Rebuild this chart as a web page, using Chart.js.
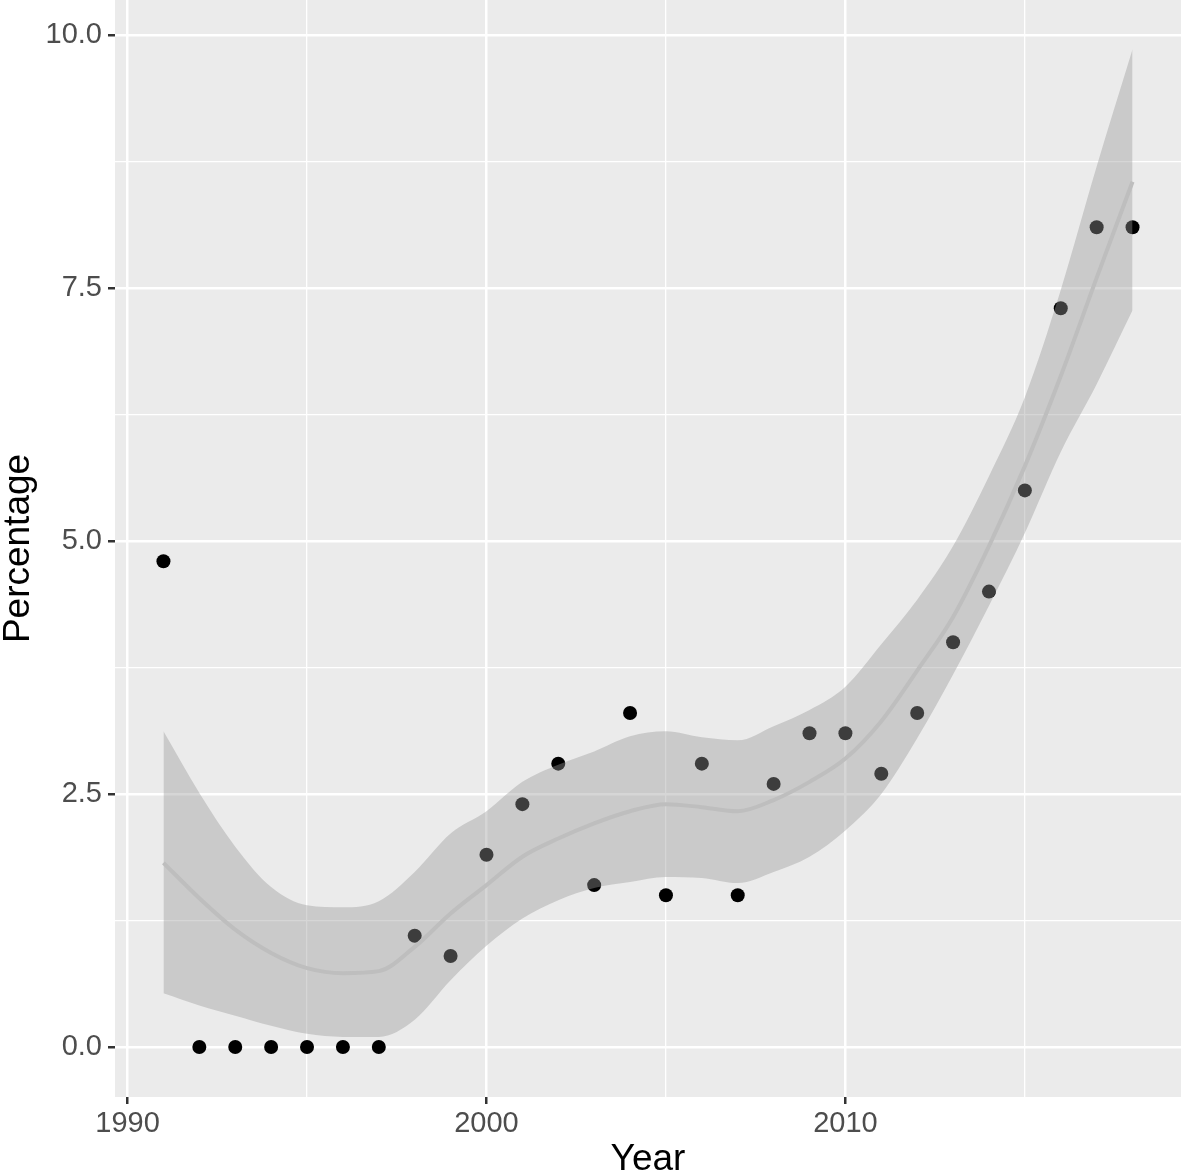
<!DOCTYPE html>
<html>
<head>
<meta charset="utf-8">
<script src="https://cdn.jsdelivr.net/npm/chart.js@4/dist/chart.umd.min.js"></script>
<style>
  html, body { margin: 0; padding: 0; background: #fff; }
  #wrap { width: 1181px; height: 1173px; }
</style>
</head>
<body>
<div id="wrap"><canvas id="trendChart" width="1181" height="1173"></canvas></div>
<script>
// observed values
const years = [1991, 1992, 1993, 1994, 1995, 1996, 1997, 1998, 1999, 2000,
               2001, 2002, 2003, 2004, 2005, 2006, 2007, 2008, 2009, 2010,
               2011, 2012, 2013, 2014, 2015, 2016, 2017, 2018];
const percentage = [4.8, 0, 0, 0, 0, 0, 0, 1.1, 0.9, 1.9,
                    2.4, 2.8, 1.6, 3.3, 1.5, 2.8, 1.5, 2.6, 3.1, 3.1,
                    2.7, 3.3, 4.0, 4.5, 5.5, 7.3, 8.1, 8.1];

// loess fit and its confidence band
const fitValues = [1.82, 1.47, 1.16, 0.93, 0.78, 0.73, 0.75, 0.99, 1.32, 1.60,
                   1.88, 2.06, 2.21, 2.33, 2.40, 2.37, 2.33, 2.44, 2.62, 2.85,
                   3.22, 3.72, 4.25, 4.95, 5.74, 6.63, 7.60, 8.55];
const bandUpper = [3.12, 2.51, 1.98, 1.58, 1.40, 1.38, 1.44, 1.73, 2.11, 2.33,
                   2.62, 2.79, 2.92, 3.07, 3.12, 3.06, 3.03, 3.17, 3.33, 3.56,
                   3.98, 4.42, 4.95, 5.64, 6.42, 7.48, 8.70, 9.86];
const bandLower = [0.53, 0.41, 0.31, 0.21, 0.13, 0.10, 0.10, 0.27, 0.66, 1.00,
                   1.27, 1.45, 1.57, 1.63, 1.68, 1.67, 1.62, 1.73, 1.88, 2.14,
                   2.50, 3.05, 3.68, 4.36, 5.08, 5.88, 6.55, 7.28];

const xTicks = [1990, 1995, 2000, 2005, 2010, 2015];
const xMajor = [1990, 2000, 2010];
const yTicks = [0, 1.25, 2.5, 3.75, 5, 6.25, 7.5, 8.75, 10];
const yMajor = [0, 2.5, 5, 7.5, 10];

const toXY = (vals) => years.map((yr, i) => ({ x: yr, y: vals[i] }));

const panelBg = {
    id: 'panelBg',
    beforeDraw(chart) {
        const { ctx, chartArea: a } = chart;
        ctx.save();
        ctx.fillStyle = '#EBEBEB';
        ctx.fillRect(a.left, a.top, a.right - a.left, a.bottom - a.top);
        ctx.restore();
    }
};

const font = "'Liberation Sans', Arial, Helvetica, sans-serif";

const isMajorX = (ctx) => ctx.tick && xMajor.includes(ctx.tick.value);
const isMajorY = (ctx) => ctx.tick && yMajor.includes(ctx.tick.value);

// the panel runs to the canvas edges, so drop the label overhang padding
const noOverhang = (scale) => {
    scale.paddingTop = 0;
    scale.paddingBottom = 0;
    scale.paddingLeft = 0;
    scale.paddingRight = 0;
};

const ctx = document.getElementById('trendChart').getContext('2d');
new Chart(ctx, {
    type: 'line',
    data: {
        datasets: [
            {
                label: 'fit',
                data: toXY(fitValues),
                borderColor: '#BEBEBE',
                borderWidth: 4,
                pointRadius: 0,
                fill: false,
                cubicInterpolationMode: 'monotone',
                order: 0
            },
            {
                label: 'upper',
                data: toXY(bandUpper),
                borderWidth: 0,
                borderColor: 'rgba(0,0,0,0)',
                pointRadius: 0,
                fill: false,
                cubicInterpolationMode: 'monotone',
                order: 1
            },
            {
                label: 'lower',
                data: toXY(bandLower),
                borderWidth: 0,
                borderColor: 'rgba(0,0,0,0)',
                backgroundColor: 'rgba(153,153,153,0.4)',
                pointRadius: 0,
                fill: '-1',
                cubicInterpolationMode: 'monotone',
                order: 1
            },
            {
                label: 'Percentage',
                data: toXY(percentage),
                showLine: false,
                pointRadius: 7,
                pointBackgroundColor: '#000',
                pointBorderWidth: 0,
                order: 2
            }
        ]
    },
    options: {
        responsive: false,
        animation: false,
        layout: { padding: 0, autoPadding: false },
        plugins: {
            legend: { display: false },
            tooltip: { enabled: false }
        },
        scales: {
            x: {
                type: 'linear',
                min: 1989.65,
                max: 2019.35,
                afterBuildTicks: (scale) => { scale.ticks = xTicks.map(v => ({ value: v })); },
                afterFit: (scale) => { scale.height = 76; noOverhang(scale); },
                border: { display: false },
                grid: {
                    color: '#FFFFFF',
                    lineWidth: (c) => isMajorX(c) ? 2.5 : 1.3,
                    tickColor: (c) => isMajorX(c) ? '#333333' : 'rgba(0,0,0,0)',
                    tickWidth: 2.5,
                    tickLength: 7
                },
                ticks: {
                    color: '#4D4D4D',
                    font: { family: font, size: 29 },
                    padding: 3,
                    maxRotation: 0,
                    autoSkip: false,
                    callback: (v) => xMajor.includes(v) ? String(v) : ''
                },
                title: {
                    display: true,
                    text: 'Year',
                    color: '#000',
                    font: { family: font, size: 37, lineHeight: 0.7 },
                    padding: 0
                }
            },
            y: {
                type: 'linear',
                min: -0.494,
                max: 10.346,
                afterBuildTicks: (scale) => { scale.ticks = yTicks.map(v => ({ value: v })); },
                afterFit: (scale) => { scale.width = 115; noOverhang(scale); },
                border: { display: false },
                grid: {
                    color: '#FFFFFF',
                    lineWidth: (c) => isMajorY(c) ? 2.5 : 1.3,
                    tickColor: (c) => isMajorY(c) ? '#333333' : 'rgba(0,0,0,0)',
                    tickWidth: 2.5,
                    tickLength: 7
                },
                ticks: {
                    color: '#4D4D4D',
                    font: { family: font, size: 29 },
                    padding: 6,
                    autoSkip: false,
                    callback: (v) => yMajor.includes(v) ? v.toFixed(1) : ''
                },
                title: {
                    display: true,
                    text: 'Percentage',
                    color: '#000',
                    font: { family: font, size: 37, lineHeight: 1.0 },
                    padding: 0
                }
            }
        }
    },
    plugins: [panelBg]
});
</script>
</body>
</html>
